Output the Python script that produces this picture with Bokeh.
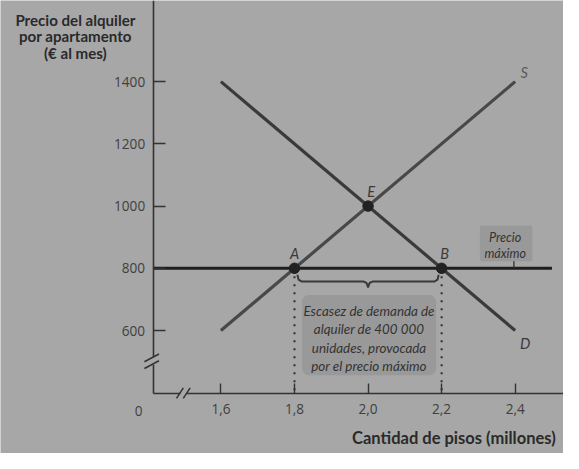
from bokeh.plotting import figure
from bokeh.models import (Range1d, LinearAxis, FixedTicker, CustomJSTickFormatter,
                          Label, ColumnDataSource, BoxAnnotation)
from bokeh.embed import file_html
from bokeh.resources import INLINE

# ---------------- data ----------------
quantity_ticks = [1.6, 1.8, 2.0, 2.2, 2.4]
price_ticks = [600, 800, 1000, 1200, 1400]
demand_q = [1.6, 2.4]
demand_p = [1400, 600]
supply_q = [1.6, 2.4]
supply_p = [600, 1400]
ceiling_price = 800
ceiling_q_end = 2.50
points_name = ["A", "B", "E"]
points_q = [1.8, 2.2, 2.0]
points_p = [800, 800, 1000]
shortage_lines = ["Escasez de demanda de", "alquiler de 400 000",
                  "unidades, provocada", "por el precio máximo"]
ceiling_lines = ["Precio", "máximo"]
y_title_lines = ["Precio del alquiler", "por apartamento", "(€ al mes)"]
x_title = "Cantidad de pisos (millones)"

# ---------------- geometry helpers (reference px -> data) ----------------
XP0, XS = 226.7, 378.25      # ref x of 1.6, px per unit
YP0, YS = 341.7, 0.32213     # ref y of 600, px per unit
RW, RH = 579, 469            # reference picture size


def qx(px):
    return 1.6 + (px - XP0) / XS


def py(pyv):
    return 600 - (pyv - YP0) / YS


W, H = 563, 453
K = W / RW                   # scale of fonts / widths
BG = "#a7a7a7"
BOX = "#999999"
FONT = "Lato"
TICKFONT = "Open Sans"


def fs(v):
    return f"{v * K:.1f}px"


p = figure(width=W, height=H, output_backend="svg", toolbar_location=None,
           x_range=Range1d(qx(0), qx(RW)), y_range=Range1d(py(RH), py(0)),
           x_axis_type=None, y_axis_type=None, min_border=0,
           background_fill_color=BG, border_fill_color=BG, outline_line_color=None)

y_axis_x = qx(157)
x_axis_y = py(407)

yaxis = LinearAxis(fixed_location=y_axis_x, bounds=(x_axis_y, py(0)),
                   ticker=FixedTicker(ticks=price_ticks),
                   major_tick_in=12, major_tick_out=0, minor_tick_line_color=None,
                   axis_line_color="#333333", axis_line_width=1.6,
                   major_tick_line_color="#333333", major_tick_line_width=1.4,
                   major_label_text_font=TICKFONT, major_label_text_font_size=fs(14),
                   major_label_text_color="#404040", major_label_standoff=8)
xaxis = LinearAxis(fixed_location=x_axis_y, bounds=(y_axis_x, qx(RW)),
                   ticker=FixedTicker(ticks=quantity_ticks),
                   formatter=CustomJSTickFormatter(code="return tick.toFixed(1).replace('.', ',');"),
                   major_tick_in=10, major_tick_out=0, minor_tick_line_color=None,
                   axis_line_color="#333333", axis_line_width=1.6,
                   major_tick_line_color="#333333", major_tick_line_width=1.4,
                   major_label_text_font=TICKFONT, major_label_text_font_size=fs(14),
                   major_label_text_color="#404040", major_label_standoff=10)
p.add_layout(yaxis, "left")
p.add_layout(xaxis, "below")

# axis breaks: gaps + slashes
p.quad(left=[qx(150)], right=[qx(164)], bottom=[py(377)], top=[py(369)],
       fill_color=BG, line_color=None, level="overlay")
p.quad(left=[qx(185)], right=[qx(191)], bottom=[py(414)], top=[py(400)],
       fill_color=BG, line_color=None, level="overlay")
p.multi_line(xs=[[qx(148), qx(163)], [qx(148), qx(163)], [qx(181), qx(188)], [qx(188), qx(195)]],
             ys=[[py(374), py(366)], [py(381), py(373)], [py(412), py(401)], [py(412), py(401)]],
             line_color="#333333", line_width=1.5, level="overlay")

# dotted verticals
p.segment(x0=[points_q[0], points_q[1]], y0=[ceiling_price, ceiling_price],
          x1=[points_q[0], points_q[1]], y1=[x_axis_y, x_axis_y],
          line_color="#303030", line_width=2, line_dash="2 6")

# supply & demand
p.line(supply_q, supply_p, line_color="#484848", line_width=3.2)
p.line(demand_q, demand_p, line_color="#3a3a3a", line_width=3.2)

# price ceiling
p.line([y_axis_x, ceiling_q_end], [ceiling_price, ceiling_price], line_color="#1e1e1e", line_width=3)

# brace
xa, xb = points_q[0], points_q[1]
xm = (xa + xb) / 2
p.line([xa + 0.008, xa + 0.011, xa + 0.02, xm - 0.012, xm - 0.004, xm, xm + 0.004, xm + 0.012, xb - 0.02, xb - 0.011, xb - 0.008],
       [py(284), py(289), py(291), py(291), py(292.5), py(297), py(292.5), py(291), py(291), py(289), py(284)],
       line_color="#3a3a3a", line_width=2)

# points
src = ColumnDataSource(dict(q=points_q, pr=points_p, name=points_name))
p.scatter("q", "pr", source=src, size=10.5, fill_color="#222222", line_color="#222222")

# point labels
for nm, q, pr in zip(points_name, points_q, points_p):
    dxp = {"A": 0, "B": 3, "E": 3}[nm]
    p.add_layout(Label(x=q, y=pr, x_offset=dxp, y_offset=15, text=nm, text_align="center",
                       text_baseline="middle", text_font=FONT, text_font_style="italic",
                       text_font_size=fs(15), text_color="#3a3a3a"))

p.add_layout(Label(x=supply_q[1], y=supply_p[1], x_offset=9, y_offset=9, text="S",
                   text_font=FONT, text_font_style="italic", text_font_size=fs(15),
                   text_color="#5a5a5a", text_align="center", text_baseline="middle"))
p.add_layout(Label(x=demand_q[1], y=demand_p[1], x_offset=10, y_offset=-13, text="D",
                   text_font=FONT, text_font_style="italic", text_font_size=fs(15),
                   text_color="#3a3a3a", text_align="center", text_baseline="middle"))

# shortage box
p.add_layout(BoxAnnotation(left=qx(310), right=qx(448), bottom=py(388), top=py(305),
                           fill_color=BOX, fill_alpha=1, line_color=None, border_radius=7,
                           level="underlay"))
for txt, yy in zip(shortage_lines, [321.5, 340.5, 359.5, 378]):
    p.add_layout(Label(x=qx(379), y=py(yy), text=txt, text_align="center",
                       text_baseline="middle", text_font=FONT, text_font_style="italic",
                       text_font_size=fs(13.8), text_color="#333333"))

# price ceiling box
p.add_layout(BoxAnnotation(left=qx(493), right=qx(547), bottom=py(270), top=py(233),
                           fill_color=BOX, fill_alpha=1, line_color=None, border_radius=2,
                           level="underlay"))
for txt, yy in zip(ceiling_lines, [245, 262]):
    p.add_layout(Label(x=qx(519), y=py(yy), text=txt, text_align="center",
                       text_baseline="middle", text_font=FONT, text_font_style="italic",
                       text_font_size=fs(13), text_color="#333333"))
p.segment(x0=[qx(528)], y0=[py(270)], x1=[qx(528)], y1=[ceiling_price],
          line_color="#303030", line_width=1.3)

# zero label
p.add_layout(Label(x=qx(142), y=py(425), text="0", text_align="center", text_baseline="middle",
                   text_font=TICKFONT, text_font_size=fs(14), text_color="#404040"))

# titles
for txt, yy in zip(y_title_lines, [20, 37, 54]):
    p.add_layout(Label(x=qx(77), y=py(yy), text=txt, text_align="center", text_baseline="middle",
                       text_font=FONT, text_font_style="bold", text_font_size=fs(15.5),
                       text_color="#2a2a2a"))
p.add_layout(Label(x=qx(571), y=py(453), text=x_title, text_align="right", text_baseline="middle",
                   text_font=FONT, text_font_style="bold", text_font_size=fs(17),
                   text_color="#2a2a2a"))

open("out.html", "w").write(file_html(p, INLINE))
